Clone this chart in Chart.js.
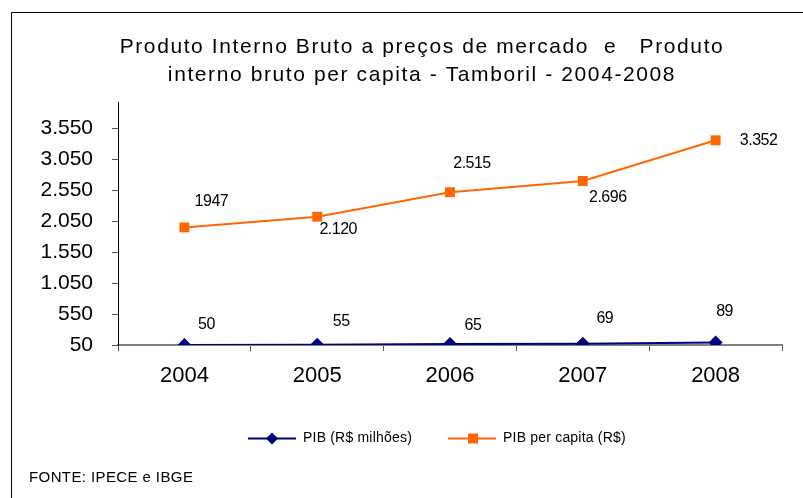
<!DOCTYPE html>
<html>
<head>
<meta charset="utf-8">
<script src="https://cdn.jsdelivr.net/npm/chart.js@4.4.1/dist/chart.umd.min.js"></script>
<style>
  html, body { margin: 0; padding: 0; background: #fff; }
  #wrap { width: 803px; height: 498px; }
</style>
</head>
<body>
<div id="wrap"><canvas id="pibChart" width="803" height="498"></canvas></div>
<script>
// dados
const anos = ['2004', '2005', '2006', '2007', '2008'];
const pibMilhoes = [50, 55, 65, 69, 89];
const pibPerCapita = [1947, 2120, 2515, 2696, 3352];
const rotulosPerCapita = ['1947', '2.120', '2.515', '2.696', '3.352'];
const rotulosMilhoes = ['50', '55', '65', '69', '89'];
const ticksY = [50, 550, 1050, 1550, 2050, 2550, 3050, 3550];

const titulo = ['Produto Interno Bruto a preços de mercado  e   Produto', 'interno bruto per capita - Tamboril - 2004-2008'];
const fonte = 'FONTE: IPECE e IBGE';

const AZUL = '#000080';
const LARANJA = '#FF6600';
const FONT = '"Liberation Sans", Arial, sans-serif';

// deslocamento dos rótulos de dados (px)
const offLaranja = [[27, -26], [21, 13], [22, -29], [25, 17], [43, 0]];
const offAzul = [[22, -20], [24, -23], [23, -18], [22, -25], [9, -31]];

const fmt = v => v.toLocaleString('pt-BR');

const moldura = {
    id: 'moldura',
    afterDraw(chart) {
        const ctx = chart.ctx;
        ctx.save();
        // borda
        ctx.strokeStyle = '#000';
        ctx.lineWidth = 1;
        ctx.beginPath();
        ctx.moveTo(11.5, 498);
        ctx.lineTo(11.5, 12.5);
        ctx.lineTo(803, 12.5);
        ctx.stroke();

        // título
        ctx.fillStyle = '#000';
        ctx.font = `21px ${FONT}`;
        ctx.textAlign = 'center';
        ctx.textBaseline = 'middle';
        ctx.letterSpacing = '1.6px';
        ctx.fillText(titulo[0], 422, 47);
        ctx.fillText(titulo[1], 422, 75);
        ctx.letterSpacing = '0px';

        // rótulos de dados
        ctx.font = `16px ${FONT}`;
        ctx.letterSpacing = '-0.5px';
        const m0 = chart.getDatasetMeta(0);
        const m1 = chart.getDatasetMeta(1);
        m1.data.forEach((p, i) => {
            ctx.fillText(rotulosPerCapita[i], p.x + offLaranja[i][0], p.y + offLaranja[i][1]);
        });
        m0.data.forEach((p, i) => {
            ctx.fillText(rotulosMilhoes[i], p.x + offAzul[i][0], p.y + offAzul[i][1]);
        });

        // legenda
        ctx.font = `14px ${FONT}`;
        ctx.textAlign = 'left';
        ctx.letterSpacing = '0.2px';
        const itens = [
            { x: 248, cor: AZUL, forma: 'rectRot', label: chart.data.datasets[0].label },
            { x: 448, cor: LARANJA, forma: 'rect', label: chart.data.datasets[1].label }
        ];
        const ly = 438.5;
        itens.forEach(it => {
            ctx.strokeStyle = it.cor;
            ctx.lineWidth = 2;
            ctx.beginPath();
            ctx.moveTo(it.x, ly);
            ctx.lineTo(it.x + 48, ly);
            ctx.stroke();
            ctx.fillStyle = it.cor;
            if (it.forma === 'rect') {
                ctx.fillRect(it.x + 20, ly - 5, 10, 10);
            } else {
                ctx.beginPath();
                ctx.moveTo(it.x + 24, ly - 6);
                ctx.lineTo(it.x + 30, ly);
                ctx.lineTo(it.x + 24, ly + 6);
                ctx.lineTo(it.x + 18, ly);
                ctx.closePath();
                ctx.fill();
            }
            ctx.fillStyle = '#000';
            ctx.fillText(it.label, it.x + 55, ly);
        });

        // fonte
        ctx.font = `15px ${FONT}`;
        ctx.letterSpacing = '0.4px';
        ctx.fillText(fonte, 29, 478);
        ctx.restore();
    }
};

new Chart(document.getElementById('pibChart'), {
    type: 'line',
    data: {
        labels: anos,
        datasets: [
            {
                label: 'PIB (R$ milhões)',
                data: pibMilhoes,
                borderColor: AZUL,
                backgroundColor: AZUL,
                borderWidth: 2,
                pointStyle: 'rectRot',
                pointRadius: 7,
                pointBorderWidth: 0,
                tension: 0
            },
            {
                label: 'PIB per capita (R$)',
                data: pibPerCapita,
                borderColor: LARANJA,
                backgroundColor: LARANJA,
                borderWidth: 2,
                pointStyle: 'rect',
                pointRadius: 7,
                pointBorderWidth: 0,
                tension: 0
            }
        ]
    },
    options: {
        responsive: false,
        animation: false,
        layout: { padding: { left: 0, top: 102, right: 21, bottom: 103 } },
        plugins: {
            legend: { display: false },
            title: { display: false },
            tooltip: { enabled: false }
        },
        scales: {
            x: {
                offset: true,
                grid: {
                    offset: true,
                    drawOnChartArea: false,
                    drawTicks: true,
                    tickLength: 6,
                    color: '#555'
                },
                border: { color: '#808080', width: 2 },
                ticks: {
                    color: '#000',
                    font: { family: FONT, size: 22 },
                    padding: 12,
                    maxRotation: 0
                },
                afterFit: s => { s.height = 50; }
            },
            y: {
                min: 50,
                max: 3970,
                afterBuildTicks: s => { s.ticks = ticksY.map(v => ({ value: v })); },
                grid: {
                    drawOnChartArea: false,
                    drawTicks: true,
                    tickLength: 6,
                    color: '#555'
                },
                border: { color: '#000', width: 1 },
                ticks: {
                    color: '#000',
                    font: { family: FONT, size: 21 },
                    padding: 19,
                    callback: v => fmt(v)
                },
                afterFit: s => { s.width = 118; }
            }
        }
    },
    plugins: [moldura]
});
</script>
</body>
</html>
